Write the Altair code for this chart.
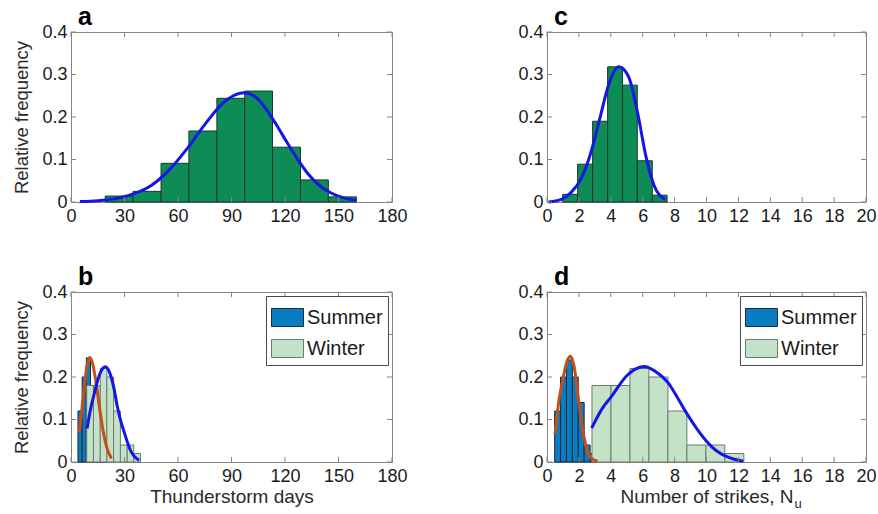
import altair as alt
import pandas as pd

# ---------------- data ----------------
# panel a: thunderstorm days, all seasons
a_edges = [19.2, 34.8, 50.5, 66.1, 81.8, 97.4, 113.0, 128.7, 144.3, 160.0]
a_freq = [0.014, 0.025, 0.091, 0.167, 0.244, 0.261, 0.129, 0.052, 0.012]
a_fit_x = [5, 15, 25, 35, 45, 55, 65, 75, 85, 91, 97, 103, 109, 115, 121, 127, 133, 139, 145, 152, 160]
a_fit_y = [0.001, 0.003, 0.008, 0.019, 0.039, 0.075, 0.125, 0.182, 0.232, 0.250, 0.257, 0.249, 0.221, 0.183, 0.141, 0.101, 0.066, 0.040, 0.023, 0.011, 0.004]

# panel b: thunderstorm days, summer / winter
b_sum_edges = [3.9, 6.25, 8.6, 10.95, 13.3, 15.65, 18.0, 20.35]
b_sum_freq = [0.12, 0.20, 0.245, 0.17, 0.10, 0.04, 0.02]
b_win_edges = [8.8, 12.6, 16.4, 20.1, 23.9, 27.7, 31.5, 35.2, 39.0]
b_win_freq = [0.18, 0.18, 0.22, 0.20, 0.12, 0.04, 0.04, 0.02]
b_sum_fit_x = [4.7, 6.0, 7.5, 9.0, 10.5, 12.0, 14.0, 16.0, 18.0, 20.0, 22.7]
b_sum_fit_y = [0.071, 0.120, 0.177, 0.227, 0.246, 0.234, 0.188, 0.128, 0.073, 0.035, 0.008]
b_win_fit_x = [9.0, 11.0, 13.0, 15.0, 17.0, 19.3, 21.5, 24.0, 26.0, 28.0, 30.0, 32.0, 34.0, 36.0, 38.2]
b_win_fit_y = [0.079, 0.125, 0.160, 0.193, 0.215, 0.224, 0.212, 0.175, 0.130, 0.095, 0.068, 0.042, 0.022, 0.011, 0.004]

# panel c: number of strikes, all seasons
c_edges = [0.98, 1.92, 2.86, 3.80, 4.73, 5.66, 6.60, 7.53]
c_freq = [0.018, 0.089, 0.190, 0.318, 0.275, 0.097, 0.016]
c_fit_x = [0.1, 0.9, 1.5, 2.1, 2.7, 3.3, 3.9, 4.5, 5.1, 5.7, 6.2, 6.7, 7.4]
c_fit_y = [0.000, 0.006, 0.022, 0.052, 0.110, 0.195, 0.280, 0.318, 0.296, 0.206, 0.108, 0.040, 0.006]

# panel d: number of strikes, summer / winter
d_sum_edges = [0.48, 0.85, 1.22, 1.59, 1.96, 2.33, 2.70, 3.07]
d_sum_freq = [0.12, 0.20, 0.24, 0.20, 0.14, 0.04, 0.02]
d_win_edges = [2.82, 4.01, 5.20, 6.39, 7.58, 8.77, 9.96, 11.15, 12.34]
d_win_freq = [0.18, 0.18, 0.22, 0.20, 0.12, 0.04, 0.04, 0.02]
d_sum_fit_x = [0.5, 0.77, 1.0, 1.2, 1.46, 1.7, 1.95, 2.24, 2.5, 2.8, 3.18]
d_sum_fit_y = [0.065, 0.150, 0.195, 0.230, 0.249, 0.225, 0.155, 0.075, 0.030, 0.008, 0.002]
d_win_fit_x = [2.8, 3.5, 4.0, 5.0, 5.5, 6.1, 6.8, 7.6, 8.2, 8.8, 9.4, 10.0, 10.6, 11.2, 11.8, 12.3]
d_win_fit_y = [0.080, 0.128, 0.152, 0.203, 0.218, 0.225, 0.213, 0.186, 0.150, 0.112, 0.078, 0.049, 0.027, 0.014, 0.006, 0.002]

x_ticks_days = [0, 30, 60, 90, 120, 150, 180]
x_ticks_strikes = [0, 2, 4, 6, 8, 10, 12, 14, 16, 18, 20]
y_ticks = [0, 0.1, 0.2, 0.3, 0.4]
seasons = ["Summer", "Winter"]

# ---------------- style ----------------
FONT = "Liberation Sans"
TXT = "#1a1a1a"
FRAME = "#858585"
GREEN = "#0d8c56"
GREEN_EDGE = "#173a28"
SUMMER = "#0a7cc1"
SUMMER_EDGE = "#1d2c36"
WINTER = "#c4e2c7"
WINTER_EDGE = "#6c7b6d"
FIT_BLUE = "#1515e8"
FIT_ORANGE = "#c2501e"
H = 170
W_LEFT = 321
W_RIGHT = 319


def bins(edges, freq, season=None):
    df = pd.DataFrame({"lo": edges[:-1], "hi": edges[1:], "freq": freq})
    if season is not None:
        df["season"] = season
    return df


def panel(W, xmax, xvals, letter, ytitle, xtitle, hist, fits, seasonal=False, subscript=None):
    xs = alt.Scale(domain=[0, xmax], nice=False, zero=False)
    ys = alt.Scale(domain=[0, 0.4], nice=False, zero=False)
    xaxis = alt.Axis(values=xvals, title=xtitle, ticks=False, domain=False, grid=False,
                     labelFlush=False, labelOverlap=False, labelFont=FONT, labelFontSize=18,
                     labelColor=TXT, labelPadding=5, titleFont=FONT, titleFontSize=19,
                     titleFontWeight="normal", titleColor="#2a2a2a", titlePadding=2)
    yaxis = alt.Axis(values=y_ticks, title=ytitle, ticks=False, domain=False, grid=False,
                     labelExpr="datum.value == 0 ? '0' : format(datum.value, '.1f')",
                     labelFlush=False, labelOverlap=False, labelFont=FONT, labelFontSize=18,
                     labelColor=TXT, labelPadding=4, titleFont=FONT, titleFontSize=18.5,
                     titleFontWeight="normal", titleColor="#2a2a2a", titlePadding=10)

    def X(f):
        return alt.X(f"{f}:Q", scale=xs, axis=xaxis)

    def Y(f):
        return alt.Y(f"{f}:Q", scale=ys, axis=yaxis)

    layers = []
    if seasonal:
        leg = alt.Legend(title=None, orient="top-right", offset=4, fillColor="white",
                         strokeColor="#4a4a4a", padding=5,
                         symbolType="M-1,-0.5625H1V0.5625H-1Z", symbolSize=1024,
                         symbolStrokeWidth=1, labelFont=FONT, labelFontSize=20,
                         labelColor=TXT, labelOffset=3, rowPadding=3)
        bars = alt.Chart(hist).mark_rect(strokeWidth=1).encode(
            x=X("lo"), x2="hi", y=Y("freq"), y2=alt.datum(0),
            fill=alt.Fill("season:N", scale=alt.Scale(domain=seasons, range=[SUMMER, WINTER]), legend=leg),
            stroke=alt.Stroke("season:N", scale=alt.Scale(domain=seasons, range=[SUMMER_EDGE, WINTER_EDGE]), legend=leg),
        )
    else:
        bars = alt.Chart(hist).mark_rect(fill=GREEN, stroke=GREEN_EDGE, strokeWidth=1).encode(
            x=X("lo"), x2="hi", y=Y("freq"), y2=alt.datum(0)
        )
    layers.append(bars)
    for fx, fy, col in fits:
        layers.append(
            alt.Chart(pd.DataFrame({"x": fx, "y": fy}))
            .mark_line(color=col, strokeWidth=3, interpolate="monotone")
            .encode(x=X("x"), y=Y("y"))
        )
    xt = pd.DataFrame({"x": xvals})
    yt = pd.DataFrame({"y": y_ticks})
    layers.append(alt.Chart(xt).mark_rule(color=FRAME, strokeWidth=1).encode(
        x=X("x"), y=alt.value(H), y2=alt.value(H - 5)))
    layers.append(alt.Chart(xt).mark_rule(color=FRAME, strokeWidth=1).encode(
        x=X("x"), y=alt.value(0), y2=alt.value(5)))
    layers.append(alt.Chart(yt).mark_rule(color=FRAME, strokeWidth=1).encode(
        y=Y("y"), x=alt.value(0), x2=alt.value(5)))
    layers.append(alt.Chart(yt).mark_rule(color=FRAME, strokeWidth=1).encode(
        y=Y("y"), x=alt.value(W), x2=alt.value(W - 5)))
    layers.append(
        alt.Chart(alt.Data(values=[{}])).mark_text(
            text=letter, font=FONT, fontSize=25, fontWeight="bold", color="black",
            align="left", baseline="alphabetic").encode(x=alt.value(7), y=alt.value(-7))
    )
    if subscript:
        layers.append(
            alt.Chart(alt.Data(values=[{}])).mark_text(
                text=subscript, font=FONT, fontSize=13, color="#2a2a2a",
                align="left", baseline="alphabetic").encode(x=alt.value(W / 2 + 88), y=alt.value(H + 46))
        )
    return alt.layer(*layers).properties(width=W, height=H)


A = panel(W_LEFT, 180, x_ticks_days, "a", "Relative frequency", "",
          bins(a_edges, a_freq), [(a_fit_x, a_fit_y, FIT_BLUE)])
C = panel(W_RIGHT, 20, x_ticks_strikes, "c", "", "",
          bins(c_edges, c_freq), [(c_fit_x, c_fit_y, FIT_BLUE)])
B = panel(W_LEFT, 180, x_ticks_days, "b", "Relative frequency", "Thunderstorm days",
          pd.concat([bins(b_sum_edges, b_sum_freq, "Summer"), bins(b_win_edges, b_win_freq, "Winter")]),
          [(b_sum_fit_x, b_sum_fit_y, FIT_ORANGE), (b_win_fit_x, b_win_fit_y, FIT_BLUE)], seasonal=True)
D = panel(W_RIGHT, 20, x_ticks_strikes, "d", "", "Number of strikes, N",
          pd.concat([bins(d_sum_edges, d_sum_freq, "Summer"), bins(d_win_edges, d_win_freq, "Winter")]),
          [(d_sum_fit_x, d_sum_fit_y, FIT_ORANGE), (d_win_fit_x, d_win_fit_y, FIT_BLUE)], seasonal=True,
          subscript="u")

chart = (
    alt.concat(A, C, B, D, columns=2, spacing={"row": 90, "column": 155}, bounds="flush")
    .resolve_scale(fill="independent", stroke="independent")
    .properties(padding={"left": 12, "top": 4, "right": 0, "bottom": 0}, background="white")
    .configure_view(stroke=FRAME, strokeWidth=1)
)

chart.save("out.html", embed_options={"renderer": "svg", "actions": False})
